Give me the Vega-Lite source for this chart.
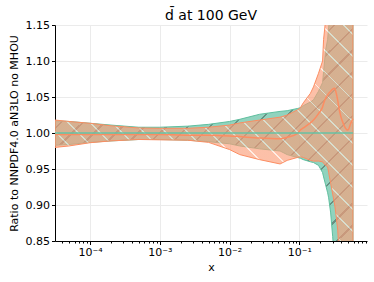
{
  "$schema": "https://vega.github.io/schema/vega-lite/v6.json",
  "autosize": "none",
  "width": 312,
  "height": 216,
  "padding": {"left": 55, "top": 25, "right": 7, "bottom": 41},
  "background": "white",
  "title": {"text": "d\u0304 at 100 GeV", "font": "DejaVu Sans", "fontSize": 14, "fontWeight": "normal", "color": "black", "offset": -4, "frame": "group"},
  "config": {
    "view": {"stroke": null},
    "axis": {"labelFont": "DejaVu Sans", "titleFont": "DejaVu Sans", "labelFontSize": 11, "titleFontSize": 11, "titleFontWeight": "normal", "labelColor": "black", "titleColor": "black", "domainColor": "black", "tickColor": "black", "gridColor": "#ebebeb", "labelOverlap": false},
    "axisY": {"labelOverlap": false, "tickCount": 7}
  },
  "data": {"values": [
    {"x": 0.0000315, "glo": 0.983, "ghi": 1.017, "olo": 0.980, "ohi": 1.018, "oc": 0.998, "gc": 1.0},
    {"x": 0.00005, "glo": 0.984, "ghi": 1.016, "olo": 0.982, "ohi": 1.016, "oc": 0.998, "gc": 1.0},
    {"x": 0.0001, "glo": 0.987, "ghi": 1.0135, "olo": 0.9865, "ohi": 1.0135, "oc": 0.998, "gc": 1.0},
    {"x": 0.0002, "glo": 0.989, "ghi": 1.011, "olo": 0.989, "ohi": 1.010, "oc": 0.998, "gc": 1.0},
    {"x": 0.0005, "glo": 0.991, "ghi": 1.008, "olo": 0.991, "ohi": 1.007, "oc": 0.998, "gc": 1.0},
    {"x": 0.001, "glo": 0.991, "ghi": 1.008, "olo": 0.9905, "ohi": 1.0065, "oc": 0.998, "gc": 1.0},
    {"x": 0.0025, "glo": 0.990, "ghi": 1.0095, "olo": 0.990, "ohi": 1.0065, "oc": 0.997, "gc": 1.0},
    {"x": 0.005, "glo": 0.988, "ghi": 1.012, "olo": 0.987, "ohi": 1.008, "oc": 0.997, "gc": 1.0},
    {"x": 0.01, "glo": 0.985, "ghi": 1.016, "olo": 0.977, "ohi": 1.011, "oc": 0.996, "gc": 1.0},
    {"x": 0.014, "glo": 0.982, "ghi": 1.019, "olo": 0.970, "ohi": 1.014, "oc": 0.995, "gc": 1.0},
    {"x": 0.027, "glo": 0.978, "ghi": 1.026, "olo": 0.963, "ohi": 1.018, "oc": 0.993, "gc": 1.0},
    {"x": 0.053, "glo": 0.975, "ghi": 1.030, "olo": 0.957, "ohi": 1.022, "oc": 0.992, "gc": 1.0},
    {"x": 0.067, "glo": 0.970, "ghi": 1.031, "olo": 0.962, "ohi": 1.025, "oc": 0.994, "gc": 1.0},
    {"x": 0.0935, "glo": 0.966, "ghi": 1.034, "olo": 0.966, "ohi": 1.032, "oc": 0.999, "gc": 1.0},
    {"x": 0.1033, "glo": 0.965, "ghi": 1.035, "olo": 0.967, "ohi": 1.035, "oc": 1.004, "gc": 1.0},
    {"x": 0.1142, "glo": 0.963, "ghi": 1.038, "olo": 0.966, "ohi": 1.042, "oc": 1.007, "gc": 1.0},
    {"x": 0.144, "glo": 0.960, "ghi": 1.043, "olo": 0.962, "ohi": 1.055, "oc": 1.014, "gc": 1.0},
    {"x": 0.1595, "glo": 0.959, "ghi": 1.046, "olo": 0.961, "ohi": 1.064, "oc": 1.018, "gc": 1.0},
    {"x": 0.1884, "glo": 0.955, "ghi": 1.058, "olo": 0.961, "ohi": 1.083, "oc": 1.027, "gc": 1.0},
    {"x": 0.2153, "glo": 0.945, "ghi": 1.07, "olo": 0.960, "ohi": 1.10, "oc": 1.036, "gc": 1.0},
    {"x": 0.2227, "glo": 0.939, "ghi": 1.085, "olo": 0.958, "ohi": 1.13, "oc": 1.041, "gc": 1.0},
    {"x": 0.2381, "glo": 0.928, "ghi": 1.115, "olo": 0.955, "ohi": 1.157, "oc": 1.048, "gc": 1.0},
    {"x": 0.2545, "glo": 0.917, "ghi": 1.13, "olo": 0.953, "ohi": 1.2, "oc": 1.053, "gc": 1.0},
    {"x": 0.2632, "glo": 0.910, "ghi": 1.147, "olo": 0.945, "ohi": 1.22, "oc": 1.055, "gc": 1.0},
    {"x": 0.2812, "glo": 0.889, "ghi": 1.17, "olo": 0.930, "ohi": 1.26, "oc": 1.058, "gc": 1.0},
    {"x": 0.3006, "glo": 0.856, "ghi": 1.2, "olo": 0.915, "ohi": 1.3, "oc": 1.061, "gc": 1.0},
    {"x": 0.3215, "glo": 0.82, "ghi": 1.25, "olo": 0.900, "ohi": 1.35, "oc": 1.062, "gc": 1.0},
    {"x": 0.3325, "glo": 0.78, "ghi": 1.28, "olo": 0.889, "ohi": 1.38, "oc": 1.058, "gc": 1.0},
    {"x": 0.3555, "glo": 0.75, "ghi": 1.3, "olo": 0.865, "ohi": 1.4, "oc": 1.045, "gc": 1.0},
    {"x": 0.3675, "glo": 0.7, "ghi": 1.35, "olo": 0.84, "ohi": 1.45, "oc": 1.036, "gc": 1.0},
    {"x": 0.4345, "glo": 0.6, "ghi": 1.4, "olo": 0.75, "ohi": 1.5, "oc": 1.011, "gc": 1.0},
    {"x": 0.4966, "glo": 0.6, "ghi": 1.4, "olo": 0.7, "ohi": 1.5, "oc": 1.004, "gc": 1.0},
    {"x": 0.5483, "glo": 0.6, "ghi": 1.4, "olo": 0.7, "ohi": 1.5, "oc": 1.014, "gc": 1.0},
    {"x": 0.5866, "glo": 0.6, "ghi": 1.4, "olo": 0.7, "ohi": 1.5, "oc": 1.02, "gc": 1.0}
  ]},
  "encoding": {
    "x": {"field": "x", "type": "quantitative",
      "scale": {"type": "log", "domain": [0.0000315, 0.933], "nice": false},
      "axis": {"title": "x", "titlePadding": 4, "labelPadding": 2, "labelOverlap": false, "labelFlush": false,
        "values": [0.00004,0.00005,0.00006,0.00007,0.00008,0.00009,0.0001,0.0002,0.0003,0.0004,0.0005,0.0006,0.0007,0.0008,0.0009,0.001,0.002,0.003,0.004,0.005,0.006,0.007,0.008,0.009,0.01,0.02,0.03,0.04,0.05,0.06,0.07,0.08,0.09,0.1,0.2,0.3,0.4,0.5,0.6,0.7,0.8,0.9],
        "labelExpr": "datum.value == 0.0001 ? '10⁻⁴' : datum.value == 0.001 ? '10⁻³' : datum.value == 0.01 ? '10⁻²' : datum.value == 0.1 ? '10⁻¹' : ''",
        "tickSize": {"condition": {"test": "indexof([0.0001,0.001,0.01,0.1], datum.value) >= 0", "value": 3.5}, "value": 2},
        "gridOpacity": {"condition": {"test": "indexof([0.0001,0.001,0.01,0.1], datum.value) >= 0", "value": 1}, "value": 0}
      }
    }
  },
  "layer": [
    {"mark": {"type": "area", "clip": true, "fillOpacity": 0.72, "stroke": "#5fbf9f", "strokeWidth": 1,
       "fill": {"gradient": "linear", "x1": 0, "y1": 0, "x2": 0.618, "y2": 1.2, "stops": [
        {"offset":0,"color":"#66c2a5"},
        {"offset":0.0225,"color":"#66c2a5"},{"offset":0.0225,"color":"#2f6452"},{"offset":0.025,"color":"#2f6452"},{"offset":0.025,"color":"#66c2a5"},
        {"offset":0.0475,"color":"#66c2a5"},{"offset":0.0475,"color":"#2f6452"},{"offset":0.05,"color":"#2f6452"},{"offset":0.05,"color":"#66c2a5"},
        {"offset":0.0725,"color":"#66c2a5"},{"offset":0.0725,"color":"#2f6452"},{"offset":0.075,"color":"#2f6452"},{"offset":0.075,"color":"#66c2a5"},
        {"offset":0.0975,"color":"#66c2a5"},{"offset":0.0975,"color":"#2f6452"},{"offset":0.1,"color":"#2f6452"},{"offset":0.1,"color":"#66c2a5"},
        {"offset":0.1225,"color":"#66c2a5"},{"offset":0.1225,"color":"#2f6452"},{"offset":0.125,"color":"#2f6452"},{"offset":0.125,"color":"#66c2a5"},
        {"offset":0.1475,"color":"#66c2a5"},{"offset":0.1475,"color":"#2f6452"},{"offset":0.15,"color":"#2f6452"},{"offset":0.15,"color":"#66c2a5"},
        {"offset":0.1725,"color":"#66c2a5"},{"offset":0.1725,"color":"#2f6452"},{"offset":0.175,"color":"#2f6452"},{"offset":0.175,"color":"#66c2a5"},
        {"offset":0.1975,"color":"#66c2a5"},{"offset":0.1975,"color":"#2f6452"},{"offset":0.2,"color":"#2f6452"},{"offset":0.2,"color":"#66c2a5"},
        {"offset":0.2225,"color":"#66c2a5"},{"offset":0.2225,"color":"#2f6452"},{"offset":0.225,"color":"#2f6452"},{"offset":0.225,"color":"#66c2a5"},
        {"offset":0.2475,"color":"#66c2a5"},{"offset":0.2475,"color":"#2f6452"},{"offset":0.25,"color":"#2f6452"},{"offset":0.25,"color":"#66c2a5"},
        {"offset":0.2725,"color":"#66c2a5"},{"offset":0.2725,"color":"#2f6452"},{"offset":0.275,"color":"#2f6452"},{"offset":0.275,"color":"#66c2a5"},
        {"offset":0.2975,"color":"#66c2a5"},{"offset":0.2975,"color":"#2f6452"},{"offset":0.3,"color":"#2f6452"},{"offset":0.3,"color":"#66c2a5"},
        {"offset":0.3225,"color":"#66c2a5"},{"offset":0.3225,"color":"#2f6452"},{"offset":0.325,"color":"#2f6452"},{"offset":0.325,"color":"#66c2a5"},
        {"offset":0.3475,"color":"#66c2a5"},{"offset":0.3475,"color":"#2f6452"},{"offset":0.35,"color":"#2f6452"},{"offset":0.35,"color":"#66c2a5"},
        {"offset":0.3725,"color":"#66c2a5"},{"offset":0.3725,"color":"#2f6452"},{"offset":0.375,"color":"#2f6452"},{"offset":0.375,"color":"#66c2a5"},
        {"offset":0.3975,"color":"#66c2a5"},{"offset":0.3975,"color":"#2f6452"},{"offset":0.4,"color":"#2f6452"},{"offset":0.4,"color":"#66c2a5"},
        {"offset":0.4225,"color":"#66c2a5"},{"offset":0.4225,"color":"#2f6452"},{"offset":0.425,"color":"#2f6452"},{"offset":0.425,"color":"#66c2a5"},
        {"offset":0.4475,"color":"#66c2a5"},{"offset":0.4475,"color":"#2f6452"},{"offset":0.45,"color":"#2f6452"},{"offset":0.45,"color":"#66c2a5"},
        {"offset":0.4725,"color":"#66c2a5"},{"offset":0.4725,"color":"#2f6452"},{"offset":0.475,"color":"#2f6452"},{"offset":0.475,"color":"#66c2a5"},
        {"offset":0.4975,"color":"#66c2a5"},{"offset":0.4975,"color":"#2f6452"},{"offset":0.5,"color":"#2f6452"},{"offset":0.5,"color":"#66c2a5"},
        {"offset":0.5225,"color":"#66c2a5"},{"offset":0.5225,"color":"#2f6452"},{"offset":0.525,"color":"#2f6452"},{"offset":0.525,"color":"#66c2a5"},
        {"offset":0.5475,"color":"#66c2a5"},{"offset":0.5475,"color":"#2f6452"},{"offset":0.55,"color":"#2f6452"},{"offset":0.55,"color":"#66c2a5"},
        {"offset":0.5725,"color":"#66c2a5"},{"offset":0.5725,"color":"#2f6452"},{"offset":0.575,"color":"#2f6452"},{"offset":0.575,"color":"#66c2a5"},
        {"offset":0.5975,"color":"#66c2a5"},{"offset":0.5975,"color":"#2f6452"},{"offset":0.6,"color":"#2f6452"},{"offset":0.6,"color":"#66c2a5"},
        {"offset":0.6225,"color":"#66c2a5"},{"offset":0.6225,"color":"#2f6452"},{"offset":0.625,"color":"#2f6452"},{"offset":0.625,"color":"#66c2a5"},
        {"offset":0.6475,"color":"#66c2a5"},{"offset":0.6475,"color":"#2f6452"},{"offset":0.65,"color":"#2f6452"},{"offset":0.65,"color":"#66c2a5"},
        {"offset":0.6725,"color":"#66c2a5"},{"offset":0.6725,"color":"#2f6452"},{"offset":0.675,"color":"#2f6452"},{"offset":0.675,"color":"#66c2a5"},
        {"offset":0.6975,"color":"#66c2a5"},{"offset":0.6975,"color":"#2f6452"},{"offset":0.7,"color":"#2f6452"},{"offset":0.7,"color":"#66c2a5"},
        {"offset":0.7225,"color":"#66c2a5"},{"offset":0.7225,"color":"#2f6452"},{"offset":0.725,"color":"#2f6452"},{"offset":0.725,"color":"#66c2a5"},
        {"offset":0.7475,"color":"#66c2a5"},{"offset":0.7475,"color":"#2f6452"},{"offset":0.75,"color":"#2f6452"},{"offset":0.75,"color":"#66c2a5"},
        {"offset":0.7725,"color":"#66c2a5"},{"offset":0.7725,"color":"#2f6452"},{"offset":0.775,"color":"#2f6452"},{"offset":0.775,"color":"#66c2a5"},
        {"offset":0.7975,"color":"#66c2a5"},{"offset":0.7975,"color":"#2f6452"},{"offset":0.8,"color":"#2f6452"},{"offset":0.8,"color":"#66c2a5"},
        {"offset":0.8225,"color":"#66c2a5"},{"offset":0.8225,"color":"#2f6452"},{"offset":0.825,"color":"#2f6452"},{"offset":0.825,"color":"#66c2a5"},
        {"offset":0.8475,"color":"#66c2a5"},{"offset":0.8475,"color":"#2f6452"},{"offset":0.85,"color":"#2f6452"},{"offset":0.85,"color":"#66c2a5"},
        {"offset":0.8725,"color":"#66c2a5"},{"offset":0.8725,"color":"#2f6452"},{"offset":0.875,"color":"#2f6452"},{"offset":0.875,"color":"#66c2a5"},
        {"offset":0.8975,"color":"#66c2a5"},{"offset":0.8975,"color":"#2f6452"},{"offset":0.9,"color":"#2f6452"},{"offset":0.9,"color":"#66c2a5"},
        {"offset":0.9225,"color":"#66c2a5"},{"offset":0.9225,"color":"#2f6452"},{"offset":0.925,"color":"#2f6452"},{"offset":0.925,"color":"#66c2a5"},
        {"offset":0.9475,"color":"#66c2a5"},{"offset":0.9475,"color":"#2f6452"},{"offset":0.95,"color":"#2f6452"},{"offset":0.95,"color":"#66c2a5"},
        {"offset":0.9725,"color":"#66c2a5"},{"offset":0.9725,"color":"#2f6452"},{"offset":0.975,"color":"#2f6452"},{"offset":0.975,"color":"#66c2a5"},
        {"offset":1,"color":"#66c2a5"}]}},
     "encoding": {
       "y": {"field": "glo", "type": "quantitative",
         "scale": {"domain": [0.85, 1.15], "nice": false, "zero": false},
         "axis": {"title": "Ratio to NNPDF4.0 aN3LO no MHOU", "values": [0.85,0.9,0.95,1.0,1.05,1.1,1.15], "format": ".2f", "tickSize": 3.5, "labelPadding": 2, "titlePadding": 6, "labelOverlap": false, "labelFlush": false}},
       "y2": {"field": "ghi"}
     }},
    {"mark": {"type": "area", "clip": true, "fillOpacity": 0.65, "stroke": "#fc8d62", "strokeWidth": 1,
       "fill": {"gradient": "linear", "x1": 0, "y1": 1, "x2": 0.618, "y2": -0.2, "stops": [
        {"offset":0,"color":"#fb9e79"},
        {"offset":0.023,"color":"#fb9e79"},{"offset":0.023,"color":"#ffe4d6"},{"offset":0.025,"color":"#ffe4d6"},{"offset":0.025,"color":"#fb9e79"},
        {"offset":0.048,"color":"#fb9e79"},{"offset":0.048,"color":"#ffe4d6"},{"offset":0.05,"color":"#ffe4d6"},{"offset":0.05,"color":"#fb9e79"},
        {"offset":0.073,"color":"#fb9e79"},{"offset":0.073,"color":"#ffe4d6"},{"offset":0.075,"color":"#ffe4d6"},{"offset":0.075,"color":"#fb9e79"},
        {"offset":0.098,"color":"#fb9e79"},{"offset":0.098,"color":"#ffe4d6"},{"offset":0.1,"color":"#ffe4d6"},{"offset":0.1,"color":"#fb9e79"},
        {"offset":0.123,"color":"#fb9e79"},{"offset":0.123,"color":"#ffe4d6"},{"offset":0.125,"color":"#ffe4d6"},{"offset":0.125,"color":"#fb9e79"},
        {"offset":0.148,"color":"#fb9e79"},{"offset":0.148,"color":"#ffe4d6"},{"offset":0.15,"color":"#ffe4d6"},{"offset":0.15,"color":"#fb9e79"},
        {"offset":0.173,"color":"#fb9e79"},{"offset":0.173,"color":"#ffe4d6"},{"offset":0.175,"color":"#ffe4d6"},{"offset":0.175,"color":"#fb9e79"},
        {"offset":0.198,"color":"#fb9e79"},{"offset":0.198,"color":"#ffe4d6"},{"offset":0.2,"color":"#ffe4d6"},{"offset":0.2,"color":"#fb9e79"},
        {"offset":0.223,"color":"#fb9e79"},{"offset":0.223,"color":"#ffe4d6"},{"offset":0.225,"color":"#ffe4d6"},{"offset":0.225,"color":"#fb9e79"},
        {"offset":0.248,"color":"#fb9e79"},{"offset":0.248,"color":"#ffe4d6"},{"offset":0.25,"color":"#ffe4d6"},{"offset":0.25,"color":"#fb9e79"},
        {"offset":0.273,"color":"#fb9e79"},{"offset":0.273,"color":"#ffe4d6"},{"offset":0.275,"color":"#ffe4d6"},{"offset":0.275,"color":"#fb9e79"},
        {"offset":0.298,"color":"#fb9e79"},{"offset":0.298,"color":"#ffe4d6"},{"offset":0.3,"color":"#ffe4d6"},{"offset":0.3,"color":"#fb9e79"},
        {"offset":0.323,"color":"#fb9e79"},{"offset":0.323,"color":"#ffe4d6"},{"offset":0.325,"color":"#ffe4d6"},{"offset":0.325,"color":"#fb9e79"},
        {"offset":0.348,"color":"#fb9e79"},{"offset":0.348,"color":"#ffe4d6"},{"offset":0.35,"color":"#ffe4d6"},{"offset":0.35,"color":"#fb9e79"},
        {"offset":0.373,"color":"#fb9e79"},{"offset":0.373,"color":"#ffe4d6"},{"offset":0.375,"color":"#ffe4d6"},{"offset":0.375,"color":"#fb9e79"},
        {"offset":0.398,"color":"#fb9e79"},{"offset":0.398,"color":"#ffe4d6"},{"offset":0.4,"color":"#ffe4d6"},{"offset":0.4,"color":"#fb9e79"},
        {"offset":0.423,"color":"#fb9e79"},{"offset":0.423,"color":"#ffe4d6"},{"offset":0.425,"color":"#ffe4d6"},{"offset":0.425,"color":"#fb9e79"},
        {"offset":0.448,"color":"#fb9e79"},{"offset":0.448,"color":"#ffe4d6"},{"offset":0.45,"color":"#ffe4d6"},{"offset":0.45,"color":"#fb9e79"},
        {"offset":0.473,"color":"#fb9e79"},{"offset":0.473,"color":"#ffe4d6"},{"offset":0.475,"color":"#ffe4d6"},{"offset":0.475,"color":"#fb9e79"},
        {"offset":0.498,"color":"#fb9e79"},{"offset":0.498,"color":"#ffe4d6"},{"offset":0.5,"color":"#ffe4d6"},{"offset":0.5,"color":"#fb9e79"},
        {"offset":0.523,"color":"#fb9e79"},{"offset":0.523,"color":"#ffe4d6"},{"offset":0.525,"color":"#ffe4d6"},{"offset":0.525,"color":"#fb9e79"},
        {"offset":0.548,"color":"#fb9e79"},{"offset":0.548,"color":"#ffe4d6"},{"offset":0.55,"color":"#ffe4d6"},{"offset":0.55,"color":"#fb9e79"},
        {"offset":0.573,"color":"#fb9e79"},{"offset":0.573,"color":"#ffe4d6"},{"offset":0.575,"color":"#ffe4d6"},{"offset":0.575,"color":"#fb9e79"},
        {"offset":0.598,"color":"#fb9e79"},{"offset":0.598,"color":"#ffe4d6"},{"offset":0.6,"color":"#ffe4d6"},{"offset":0.6,"color":"#fb9e79"},
        {"offset":0.623,"color":"#fb9e79"},{"offset":0.623,"color":"#ffe4d6"},{"offset":0.625,"color":"#ffe4d6"},{"offset":0.625,"color":"#fb9e79"},
        {"offset":0.648,"color":"#fb9e79"},{"offset":0.648,"color":"#ffe4d6"},{"offset":0.65,"color":"#ffe4d6"},{"offset":0.65,"color":"#fb9e79"},
        {"offset":0.673,"color":"#fb9e79"},{"offset":0.673,"color":"#ffe4d6"},{"offset":0.675,"color":"#ffe4d6"},{"offset":0.675,"color":"#fb9e79"},
        {"offset":0.698,"color":"#fb9e79"},{"offset":0.698,"color":"#ffe4d6"},{"offset":0.7,"color":"#ffe4d6"},{"offset":0.7,"color":"#fb9e79"},
        {"offset":0.723,"color":"#fb9e79"},{"offset":0.723,"color":"#ffe4d6"},{"offset":0.725,"color":"#ffe4d6"},{"offset":0.725,"color":"#fb9e79"},
        {"offset":0.748,"color":"#fb9e79"},{"offset":0.748,"color":"#ffe4d6"},{"offset":0.75,"color":"#ffe4d6"},{"offset":0.75,"color":"#fb9e79"},
        {"offset":0.773,"color":"#fb9e79"},{"offset":0.773,"color":"#ffe4d6"},{"offset":0.775,"color":"#ffe4d6"},{"offset":0.775,"color":"#fb9e79"},
        {"offset":0.798,"color":"#fb9e79"},{"offset":0.798,"color":"#ffe4d6"},{"offset":0.8,"color":"#ffe4d6"},{"offset":0.8,"color":"#fb9e79"},
        {"offset":0.823,"color":"#fb9e79"},{"offset":0.823,"color":"#ffe4d6"},{"offset":0.825,"color":"#ffe4d6"},{"offset":0.825,"color":"#fb9e79"},
        {"offset":0.848,"color":"#fb9e79"},{"offset":0.848,"color":"#ffe4d6"},{"offset":0.85,"color":"#ffe4d6"},{"offset":0.85,"color":"#fb9e79"},
        {"offset":0.873,"color":"#fb9e79"},{"offset":0.873,"color":"#ffe4d6"},{"offset":0.875,"color":"#ffe4d6"},{"offset":0.875,"color":"#fb9e79"},
        {"offset":0.898,"color":"#fb9e79"},{"offset":0.898,"color":"#ffe4d6"},{"offset":0.9,"color":"#ffe4d6"},{"offset":0.9,"color":"#fb9e79"},
        {"offset":0.923,"color":"#fb9e79"},{"offset":0.923,"color":"#ffe4d6"},{"offset":0.925,"color":"#ffe4d6"},{"offset":0.925,"color":"#fb9e79"},
        {"offset":0.948,"color":"#fb9e79"},{"offset":0.948,"color":"#ffe4d6"},{"offset":0.95,"color":"#ffe4d6"},{"offset":0.95,"color":"#fb9e79"},
        {"offset":0.973,"color":"#fb9e79"},{"offset":0.973,"color":"#ffe4d6"},{"offset":0.975,"color":"#ffe4d6"},{"offset":0.975,"color":"#fb9e79"},
        {"offset":1,"color":"#fb9e79"}]}},
     "encoding": {
       "y": {"field": "olo", "type": "quantitative",
         "axis": {"title": "Ratio to NNPDF4.0 aN3LO no MHOU", "values": [0.85,0.9,0.95,1.0,1.05,1.1,1.15], "format": ".2f", "tickSize": 3.5, "labelPadding": 2, "titlePadding": 6, "labelOverlap": false, "labelFlush": false}},
       "y2": {"field": "ohi"}
     }},
    {"mark": {"type": "line", "clip": true, "color": "#fc8d62", "strokeWidth": 1.5, "interpolate": "monotone"},
     "encoding": {"y": {"field": "oc", "type": "quantitative",
         "axis": {"title": "Ratio to NNPDF4.0 aN3LO no MHOU", "values": [0.85,0.9,0.95,1.0,1.05,1.1,1.15], "format": ".2f", "tickSize": 3.5, "labelPadding": 2, "titlePadding": 6, "labelOverlap": false, "labelFlush": false}}}},
    {"mark": {"type": "line", "clip": true, "color": "#66c2a5", "strokeWidth": 1.5},
     "encoding": {"y": {"field": "gc", "type": "quantitative",
         "axis": {"title": "Ratio to NNPDF4.0 aN3LO no MHOU", "values": [0.85,0.9,0.95,1.0,1.05,1.1,1.15], "format": ".2f", "tickSize": 3.5, "labelPadding": 2, "titlePadding": 6, "labelOverlap": false, "labelFlush": false}}}}
  ]
}
